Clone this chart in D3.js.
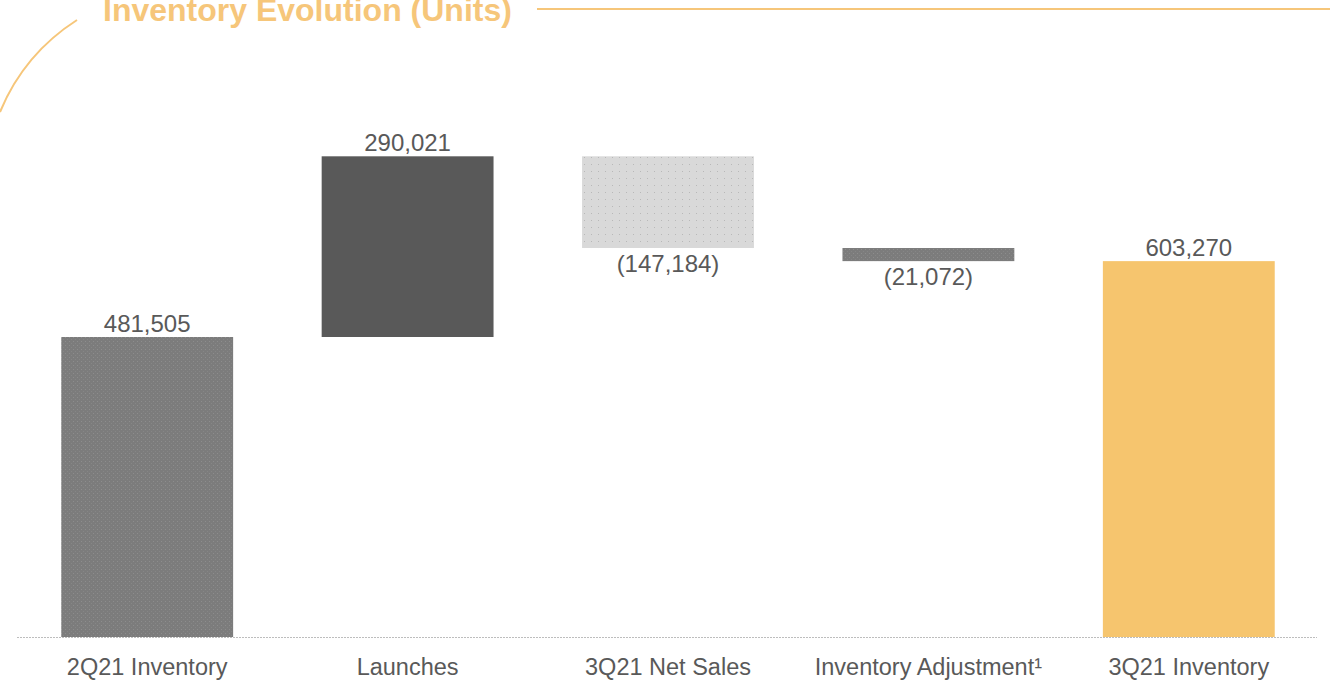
<!DOCTYPE html>
<html>
<head>
<meta charset="utf-8">
<script src="https://cdn.jsdelivr.net/npm/d3@7"></script>
<style>
  html, body { margin: 0; padding: 0; background: #ffffff; }
  svg { display: block; }
  text { font-family: "Liberation Sans", Arial, sans-serif; }
</style>
</head>
<body>
<svg id="chart" width="1330" height="682"></svg>
<script>
// Waterfall data: opening stock, movements during the quarter, closing stock
const categories = ["2Q21 Inventory", "Launches", "3Q21 Net Sales", "Inventory Adjustment\u00B9", "3Q21 Inventory"];
const values = [481505, 290021, -147184, -21072, 603270];
const kinds = ["total", "delta", "delta", "delta", "total"];
const fills = ["url(#dotsDark)", "#595959", "url(#dotsLight)", "url(#dotsDark)", "#f6c56e"];

const W = 1330, H = 682;
const svg = d3.select("#chart");
const ink = "#595959";
const accent = "#f6c67a";

// Dotted textures for the stock/adjustment bars
const defs = svg.append("defs");
const dark = defs.append("pattern").attr("id", "dotsDark")
  .attr("patternUnits", "userSpaceOnUse").attr("width", 4).attr("height", 4);
dark.append("rect").attr("width", 4).attr("height", 4).attr("fill", "#7c7c7c");
dark.append("rect").attr("x", 1).attr("y", 1).attr("width", 1).attr("height", 1).attr("fill", "#8d8d8d");
dark.append("rect").attr("x", 3).attr("y", 3).attr("width", 1).attr("height", 1).attr("fill", "#868686");

const light = defs.append("pattern").attr("id", "dotsLight")
  .attr("patternUnits", "userSpaceOnUse").attr("width", 7).attr("height", 7);
light.append("rect").attr("width", 7).attr("height", 7).attr("fill", "#d9d9d9");
light.append("rect").attr("x", 3).attr("y", 3).attr("width", 1).attr("height", 1).attr("fill", "#b8b8b8");

// Running totals for the floating bars
let running = 0;
const bars = categories.map((c, i) => {
  let start, end;
  if (kinds[i] === "total") { start = 0; end = values[i]; running = values[i]; }
  else { start = running; end = running + values[i]; running = end; }
  return { cat: c, value: values[i], kind: kinds[i], start, end, fill: fills[i] };
});

const x = d3.scaleBand().domain(categories).range([17, 1319])
  .paddingInner(0.34).paddingOuter(0.17);
const y = d3.scaleLinear().domain([0, 800000]).range([637, 637 - 800000 * 300 / 481505]);

const fmt = d3.format(",");

// Bars
svg.append("g").selectAll("rect").data(bars).join("rect")
  .attr("x", d => x(d.cat))
  .attr("width", x.bandwidth())
  .attr("y", d => y(Math.max(d.start, d.end)))
  .attr("height", d => Math.abs(y(d.start) - y(d.end)))
  .attr("fill", d => d.fill);

// Baseline
svg.append("line")
  .attr("x1", 17).attr("x2", 1317)
  .attr("y1", y(0) + 0.5).attr("y2", y(0) + 0.5)
  .attr("stroke", "#bdbdbd").attr("stroke-width", 1.2)
  .attr("stroke-dasharray", "2,1");

// Value labels: above rising bars, below falling ones
svg.append("g").selectAll("text").data(bars).join("text")
  .attr("x", d => x(d.cat) + x.bandwidth() / 2)
  .attr("y", d => d.value >= 0 ? y(Math.max(d.start, d.end)) - 5 : y(Math.min(d.start, d.end)) + 24)
  .attr("text-anchor", "middle")
  .attr("font-size", 24)
  .attr("fill", ink)
  .text(d => d.value >= 0 ? fmt(d.value) : "(" + fmt(-d.value) + ")");

// Category axis
const axis = svg.append("g").attr("transform", `translate(0,${y(0)})`)
  .call(d3.axisBottom(x).tickSize(0).tickPadding(0));
axis.select(".domain").remove();
axis.selectAll("text")
  .attr("y", 38).attr("dy", 0)
  .attr("font-size", 23.5)
  .attr("font-family", "Liberation Sans, Arial, sans-serif")
  .attr("fill", ink);

// Header: title, rule and corner arc
svg.append("text")
  .attr("x", 103).attr("y", 21)
  .attr("font-size", 32).attr("font-weight", "bold")
  .attr("fill", accent)
  .text("Inventory Evolution (Units)");

svg.append("line")
  .attr("x1", 537).attr("x2", W).attr("y1", 9).attr("y2", 9)
  .attr("stroke", accent).attr("stroke-width", 2);

svg.append("path")
  .attr("d", "M77,20 A200,200 0 0 0 0,112")
  .attr("fill", "none").attr("stroke", accent).attr("stroke-width", 2);
</script>
</body>
</html>
